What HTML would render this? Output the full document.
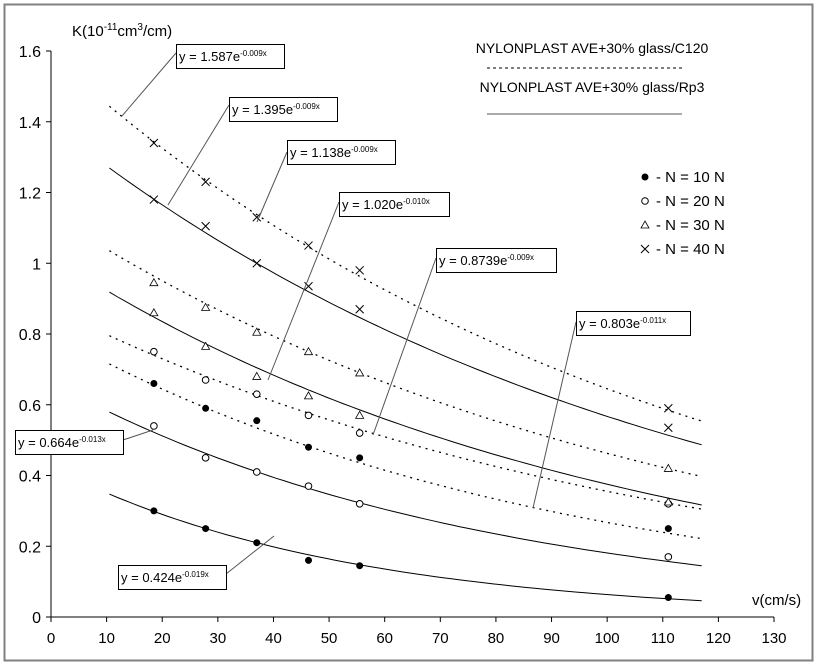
<!DOCTYPE html>
<html><head><meta charset="utf-8"><style>
body{margin:0;background:#fff}
svg{display:block;font-family:"Liberation Sans",Arial,sans-serif}
</style></head><body>
<svg id="chart" width="817" height="665" viewBox="0 0 817 665" xmlns="http://www.w3.org/2000/svg">
<rect x="4.5" y="4.5" width="808" height="656" fill="#fff" stroke="#808080" stroke-width="2"/>
<g id="axes"></g>
<g id="lines"></g>
<g id="marks"></g>
<g id="labels"></g>
<text x="72" y="36" font-size="15">K(10<tspan font-size="10" dy="-6">-11</tspan><tspan dy="6">cm</tspan><tspan font-size="10" dy="-6">3</tspan><tspan dy="6">/cm)</tspan></text>
<text x="752" y="605" font-size="15">v(cm/s)</text>
<g>
<text x="592" y="53" font-size="14" text-anchor="middle">NYLONPLAST AVE+30% glass/C120</text>
<line x1="487" y1="68" x2="682" y2="68" stroke="#000" stroke-dasharray="3,3"/>
<text x="592" y="92" font-size="14" text-anchor="middle">NYLONPLAST AVE+30% glass/Rp3</text>
<line x1="487" y1="114" x2="682" y2="114" stroke="#555"/>
</g>
<g id="symlegend"></g>
</svg>
<script>
const NS="http://www.w3.org/2000/svg";
const xVals=[18.5,27.8,37,46.3,55.5,111];
const c120N10=[0.66,0.59,0.555,0.48,0.45,0.25];
const rp3N10=[0.30,0.25,0.21,0.16,0.145,0.055];
const c120N20=[0.75,0.67,0.63,0.57,0.52,0.32];
const rp3N20=[0.54,0.45,0.41,0.37,0.32,0.17];
const c120N30=[0.945,0.875,0.805,0.75,0.69,0.42];
const rp3N30=[0.86,0.765,0.68,0.625,0.57,0.325];
const c120N40=[1.34,1.23,1.13,1.05,0.98,0.59];
const rp3N40=[1.18,1.105,1.0,0.935,0.87,0.535];
const fitA=[1.587,1.395,1.138,1.020,0.8739,0.803,0.664,0.424];
const fitK=[0.009,0.009,0.009,0.010,0.009,0.011,0.013,0.019];
const fitLabelA=["1.587","1.395","1.138","1.020","0.8739","0.803","0.664","0.424"];
const fitLabelK=["-0.009x","-0.009x","-0.009x","-0.010x","-0.009x","-0.011x","-0.013x","-0.019x"];
const fitDotted=[true,false,true,false,true,true,false,false];
const xTicks=[0,10,20,30,40,50,60,70,80,90,100,110,120,130];
const yTicks=[0,0.2,0.4,0.6,0.8,1,1.2,1.4,1.6];
const yTickLabels=["0","0.2","0.4","0.6","0.8","1","1.2","1.4","1.6"];
const X=v=>51+v*(774-51)/130;
const Y=v=>617-v*(617-51)/1.6;
function mk(tag,attrs,parent){const e=document.createElementNS(NS,tag);for(const k in attrs)e.setAttribute(k,attrs[k]);parent.appendChild(e);return e;}
const axes=document.getElementById('axes');
let a=mk('line',{x1:X(0),y1:Y(0),x2:X(130),y2:Y(0),stroke:'#000'},axes);


a=mk('line',{x1:X(0),y1:Y(0),x2:X(0),y2:Y(1.6),stroke:'#000'},axes);


xTicks.forEach(t=>{
  mk('line',{x1:X(t),y1:Y(0),x2:X(t),y2:Y(0)+5,stroke:'#000'},axes);
  const tx=mk('text',{x:X(t),y:643,'font-size':15,'text-anchor':'middle'},axes);tx.textContent=t;
  
  
});
yTicks.forEach((t,i)=>{
  mk('line',{x1:X(0)-5,y1:Y(t),x2:X(0),y2:Y(t),stroke:'#000'},axes);
  const tx=mk('text',{x:41,y:Y(t)+6,'font-size':16,'text-anchor':'end'},axes);tx.textContent=yTickLabels[i];
  
  
});
const lines=document.getElementById('lines');
fitA.forEach((A,i)=>{
  let d='';for(let v=10.5;v<=117.01;v+=1.5){d+=(d?'L':'M')+X(v).toFixed(1)+','+Y(A*Math.exp(-fitK[i]*v)).toFixed(1);}
  const p=mk('path',{d:d,fill:'none',stroke:'#000','stroke-width':fitDotted[i]?1.3:1,'stroke-dasharray':fitDotted[i]?'2,5':'none'},lines);
  
  
});
const marks=document.getElementById('marks');
function sym(type,cx,cy,parent){
  if(type==0)return mk('circle',{cx:cx,cy:cy,r:3.5,fill:'#000'},parent);
  if(type==1)return mk('circle',{cx:cx,cy:cy,r:3.3,fill:'#fff',stroke:'#000'},parent);
  if(type==2)return mk('path',{d:`M${cx},${cy-4}L${cx+4},${cy+3}L${cx-4},${cy+3}Z`,fill:'#fff',stroke:'#000','stroke-width':0.8},parent);
  return mk('path',{d:`M${cx-4},${cy-4}L${cx+4},${cy+4}M${cx+4},${cy-4}L${cx-4},${cy+4}`,stroke:'#000','stroke-width':1},parent);
}
const series=[[c120N10,0],[rp3N10,0],[c120N20,1],[rp3N20,1],[c120N30,2],[rp3N30,2],[c120N40,3],[rp3N40,3]];
series.forEach(([vals,t],si)=>vals.forEach((v,j)=>{
  const e=sym(t,X(xVals[j]),Y(v),marks);
  
  
}));
const boxes=[[176,44,108,[176,53,122,116]],[229,97,108,[229,105,168,205]],[287,140,108,[287,152,257,222]],[339,192,110,[339,202,268,380]],[436,248,120,[436,258,373,435]],[576,311,114,[576,322,533,508]],[15,430,108,[123,440,153,430]],[118,565,108,[226,574,274,536]]];
const lab=document.getElementById('labels');
boxes.forEach((b,i)=>{
  const [x,y,w,l]=b;
  const ln=mk('line',{x1:l[0],y1:l[1],x2:l[2],y2:l[3],stroke:'#555'},lab);
  
  
  const r=mk('rect',{x:x+0.5,y:y+0.5,width:w,height:24,fill:'#fff',stroke:'#000'},lab);
  
  
  const t=mk('text',{x:x+3,y:y+17,'font-size':13},lab);
  
  
  t.appendChild(document.createTextNode('y = '+fitLabelA[i]+'e'));
  const s=mk('tspan',{'font-size':8,dy:-5},t);s.textContent=fitLabelK[i];
});
const sl=document.getElementById('symlegend');
const legY=[177,201,225,249];
["- N = 10 N","- N = 20 N","- N = 30 N","- N = 40 N"].forEach((s,i)=>{
  const e=sym(i,645,legY[i],sl);
  
  
  const t=mk('text',{x:656,y:legY[i]+5,'font-size':15},sl);t.textContent=s;
  
  
});
</script>
</body></html>
